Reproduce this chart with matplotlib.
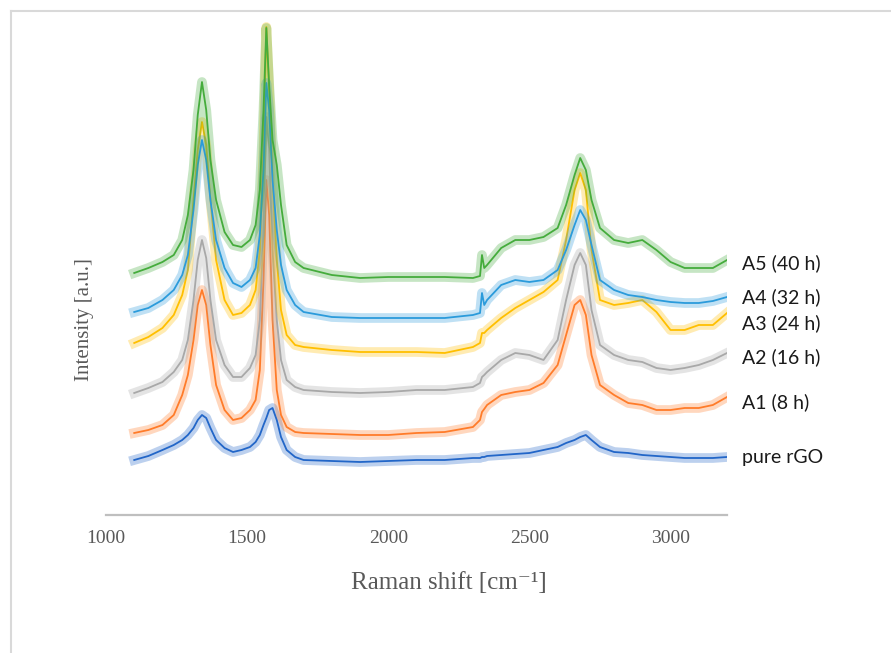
import matplotlib
matplotlib.use("Agg")
import matplotlib.pyplot as plt
from matplotlib.lines import Line2D

shift = [1100, 1150, 1200, 1240, 1270, 1290, 1310, 1325, 1340, 1355,
         1370, 1390, 1420, 1450, 1480, 1510, 1530, 1545, 1558, 1568,
         1578, 1590, 1605, 1620, 1640, 1670, 1700, 1800, 1900, 2000,
         2100, 2200, 2300, 2325, 2332, 2340, 2350, 2400, 2450, 2500,
         2550, 2600, 2630, 2660, 2680, 2700, 2720, 2750, 2800, 2850,
         2900, 2950, 3000, 3050, 3100, 3150, 3200]

# stacked intensities (a.u., offsets included)
pure_rgo = [55, 59, 65, 70, 75, 80, 87, 95, 100, 97,
            87, 75, 67, 63, 65, 68, 73, 80, 90, 97,
            105, 107, 95, 78, 65, 58, 55, 54, 53, 54,
            55, 55, 57, 57, 58, 58, 59, 60, 61, 62,
            65, 68, 72, 75, 78, 80, 75, 68, 63, 62,
            60, 59, 58, 57, 57, 57, 58]
a1 = [82, 85, 90, 100, 120, 140, 175, 210, 225, 210,
      170, 130, 105, 95, 97, 105, 115, 145, 235, 335,
      300, 195, 125, 100, 88, 83, 82, 81, 80, 80,
      82, 83, 88, 95, 103, 106, 110, 120, 123, 125,
      132, 150, 180, 210, 215, 200, 160, 130, 120, 112,
      110, 105, 105, 107, 107, 110, 118]
a2 = [122, 127, 133, 143, 155, 175, 215, 255, 275, 257,
      215, 175, 150, 138, 138, 147, 160, 195, 285, 398,
      365, 265, 195, 155, 135, 128, 125, 123, 122, 123,
      125, 125, 128, 132, 138, 140, 143, 155, 162, 160,
      155, 175, 215, 250, 262, 250, 205, 170, 160, 155,
      153, 147, 145, 147, 150, 155, 162]
a3 = [172, 178, 187, 200, 220, 245, 315, 365, 393, 370,
      315, 255, 215, 200, 202, 210, 225, 265, 365, 488,
      425, 335, 255, 205, 180, 170, 168, 165, 163, 163,
      163, 162, 168, 172, 182, 182, 185, 197, 207, 215,
      223, 235, 275, 325, 342, 325, 265, 215, 210, 212,
      215, 203, 185, 185, 190, 190, 202]
a4 = [203, 207, 215, 225, 240, 260, 305, 350, 375, 355,
      315, 275, 247, 232, 228, 235, 247, 280, 345, 432,
      405, 335, 285, 250, 225, 210, 203, 198, 197, 197,
      197, 197, 200, 202, 222, 210, 215, 230, 235, 233,
      235, 245, 265, 290, 305, 295, 270, 235, 225, 220,
      218, 215, 213, 212, 212, 214, 218]
a5 = [242, 247, 253, 260, 275, 300, 345, 400, 433, 405,
      355, 315, 283, 270, 268, 275, 290, 325, 405, 487,
      430, 375, 350, 310, 270, 253, 247, 240, 237, 238,
      238, 238, 237, 239, 260, 247, 250, 267, 275, 275,
      278, 287, 310, 340, 357, 345, 315, 287, 275, 272,
      275, 265, 253, 247, 247, 247, 255]

labels = ["pure rGO", "A1 (8 h)", "A2 (16 h)", "A3 (24 h)", "A4 (32 h)", "A5 (40 h)"]
label_y = [57, 113, 158, 192, 218, 252]
xticks = [1000, 1500, 2000, 2500, 3000]

series = [pure_rgo, a1, a2, a3, a4, a5]
colors = ["#2266c8", "#ff7c2a", "#a8a8a8", "#ffbf00", "#2b9bdb", "#45ac3c"]

fig = plt.figure(figsize=(8.91, 6.53), dpi=100)
ax = fig.add_axes([106 / 891, 138 / 653, 621 / 891, 500 / 653])

# wide faint stroke under each spectrum stands in for the measurement noise
for vals, c in zip(series, colors):
    ax.plot(shift, vals, color=c, lw=7, alpha=0.3, solid_joinstyle="round")
    ax.plot(shift, vals, color=c, lw=1.3)

for lab, yy in zip(labels, label_y):
    ax.text(3252, yy, lab, fontsize=14, family="Lato", color="#1a1a1a",
            va="center", ha="left", clip_on=False)

ax.set_xlim(1000, 3200)
ax.set_ylim(0, 500)
ax.set_xticks(xticks)
ax.set_xticklabels([str(t) for t in xticks], family="Liberation Serif",
                   fontsize=14, color="#595959")
ax.set_yticks([])
ax.tick_params(axis="x", length=0, pad=11)
for s in ["top", "right", "left"]:
    ax.spines[s].set_visible(False)
ax.spines["bottom"].set_color("#bfbfbf")
ax.spines["bottom"].set_linewidth(1.6)

fig.text(449 / 891, 1 - 583 / 653, "Raman shift [cm⁻¹]", ha="center", va="center",
         fontsize=18, color="#595959", family=["Liberation Serif", "DejaVu Serif"])
fig.text(84 / 891, 1 - 320 / 653, "Intensity [a.u.]", ha="center", va="center",
         rotation=90, fontsize=15, color="#595959", family="Liberation Serif")

# light frame of the figure (top and left edges)
fig.add_artist(Line2D([11 / 891, 1], [1 - 11 / 653, 1 - 11 / 653],
                      color="#d9d9d9", lw=1.5, transform=fig.transFigure))
fig.add_artist(Line2D([11 / 891, 11 / 891], [0, 1 - 11 / 653],
                      color="#d9d9d9", lw=1.5, transform=fig.transFigure))

fig.savefig("out.png", dpi=100)
